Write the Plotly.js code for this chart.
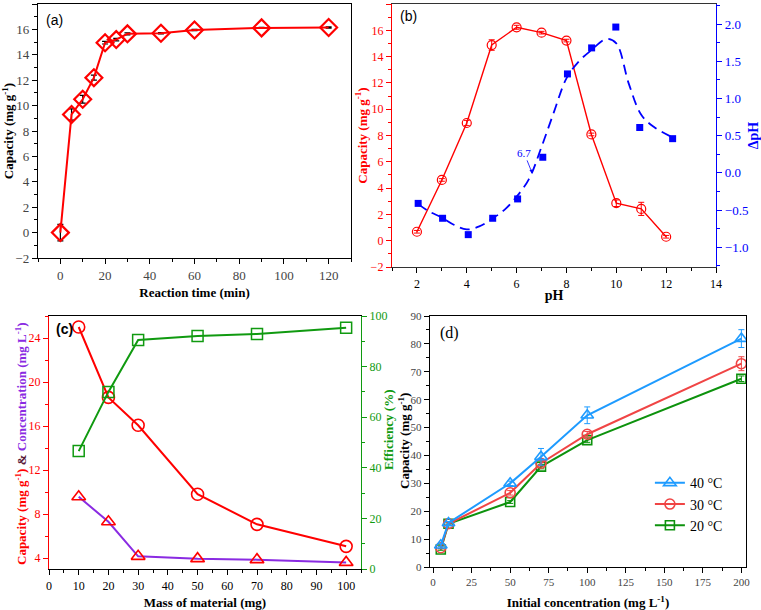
<!DOCTYPE html>
<html>
<head>
<meta charset="utf-8">
<script src="https://cdn.plot.ly/plotly-3.0.1.min.js"></script>
<style>html,body{margin:0;padding:0;background:#fff;}#chart{width:761px;height:610px;}</style>
</head>
<body>
<div id="chart"></div>
<script>
// ---------- Panel (a): kinetics ----------
var timeMin = [0, 5, 10, 15, 20, 25, 30, 45, 60, 90, 120];
var capTime = [0, 9.3, 10.5, 12.2, 14.95, 15.2, 15.65, 15.7, 15.95, 16.12, 16.15];
var capTimeErr = [0.65, 0.45, 0.3, 0.2, 0.1, 0.1, 0.08, 0.05, 0.05, 0.05, 0.05];

// ---------- Panel (b): pH ----------
var pHVals = [2, 3, 4, 5, 6, 7, 8, 9, 10, 11, 12];
var capPH = [0.68, 4.62, 8.95, 14.88, 16.23, 15.82, 15.22, 8.08, 2.85, 2.42, 0.3];
var capPHErr = [0.1, 0.1, 0.2, 0.4, 0.15, 0.1, 0.1, 0.1, 0.25, 0.5, 0.1];
var pHInit = [2.05, 3.03, 4.06, 5.04, 6.04, 7.05, 8.04, 9.01, 9.98, 10.94, 12.26];
var deltaPH = [-0.41, -0.61, -0.83, -0.61, -0.35, 0.21, 1.33, 1.68, 1.96, 0.61, 0.46];
var fitPH = [2.05, 2.5, 3, 3.5, 4, 4.5, 5, 5.5, 6, 6.5, 7, 7.5, 8, 8.5, 9, 9.6, 10, 10.5, 11, 11.5, 12.3];
var fitDelta = [-0.42, -0.52, -0.6, -0.7, -0.76, -0.72, -0.62, -0.5, -0.32, -0.08, 0.35, 0.82, 1.27, 1.5, 1.65, 1.8, 1.74, 1.2, 0.78, 0.62, 0.47];

// ---------- Panel (c): dose ----------
var massMg = [10, 20, 30, 50, 70, 100];
var capMass = [25.0, 18.6, 16.07, 9.8, 7.06, 5.06];
var concMass = [9.57, 7.29, 4.15, 3.94, 3.85, 3.6];
var effMass = [46.6, 70.0, 90.5, 92.1, 92.9, 95.4];

// ---------- Panel (d): isotherms ----------
var initConc = [5, 10, 50, 70, 100, 200];
var cap40 = [7.8, 15.8, 30.0, 39.5, 54.4, 81.9];
var cap30 = [6.9, 15.5, 26.6, 37.2, 47.6, 72.9];
var cap20 = [6.3, 15.5, 23.3, 36.0, 45.5, 67.5];
var err40 = [0.5, 0.5, 0.8, 3.0, 3.0, 3.2];
var err30 = [0.4, 0.4, 0.8, 1.0, 1.0, 2.5];
var err20 = [0.3, 0.3, 0.5, 0.8, 0.8, 1.0];
var tempLabels = ['40 \u00B0C', '30 \u00B0C', '20 \u00B0C'];

var W = 761, H = 610;
function dx(a, b) { return [a / W, b / W]; }
function dy(top, bot) { return [1 - bot / H, 1 - top / H]; }
function px(x) { return x / W; }
function py(y) { return 1 - y / H; }

var SERIF = 'Liberation Serif';
var SANS = 'Liberation Sans';

function ax(opts) {
  var base = {
    showgrid: false, zeroline: false, showline: true, linewidth: 1.2, linecolor: '#000',
    ticks: 'outside', ticklen: 5, tickwidth: 1, tickcolor: '#000',
    tickfont: { family: SERIF, size: 12, color: '#000' },
    minor: { ticks: 'outside', ticklen: 3, tickcolor: '#000', showgrid: false },
    fixedrange: true
  };
  for (var k in opts) base[k] = opts[k];
  return base;
}

var red = '#ff0000', blue = '#0000ff', purple = '#8a2be2', green = '#109a10';
var c40 = '#1e9bff', c30 = '#f04545', c20 = '#0d920d';

var traces = [
  // (a)
  { x: timeMin, y: capTime, xaxis: 'x', yaxis: 'y', mode: 'lines+markers', showlegend: false,
    line: { color: red, width: 2 },
    marker: { symbol: 'diamond-open', size: 13, color: red, line: { width: 2.2, color: red } },
    error_y: { type: 'data', array: capTimeErr, visible: true, color: '#000', thickness: 1.2, width: 3 } },
  // (b) capacity
  { x: pHVals, y: capPH, xaxis: 'x2', yaxis: 'y2', mode: 'lines+markers', showlegend: false,
    line: { color: red, width: 1.4 },
    marker: { symbol: 'circle-open', size: 9, color: red, line: { width: 1.2, color: red } },
    error_y: { type: 'data', array: capPHErr, visible: true, color: red, thickness: 1, width: 3 } },
  // (b) fit
  { x: fitPH, y: fitDelta, xaxis: 'x2', yaxis: 'y3', mode: 'lines', showlegend: false,
    line: { color: blue, width: 1.8, dash: '10px,6px', shape: 'spline', smoothing: 1 } },
  // (b) delta pH
  { x: pHInit, y: deltaPH, xaxis: 'x2', yaxis: 'y3', mode: 'markers', showlegend: false,
    marker: { symbol: 'square', size: 7, color: blue } },
  // (c) efficiency
  { x: massMg, y: effMass, xaxis: 'x3', yaxis: 'y5', mode: 'lines+markers', showlegend: false,
    line: { color: green, width: 2 },
    marker: { symbol: 'square-open', size: 11, color: green, line: { width: 1.5, color: green } } },
  // (c) capacity
  { x: massMg, y: capMass, xaxis: 'x3', yaxis: 'y4', mode: 'lines+markers', showlegend: false,
    line: { color: red, width: 2 },
    marker: { symbol: 'circle-open', size: 12, color: red, line: { width: 1.6, color: red } } },
  // (c) concentration
  { x: massMg, y: concMass, xaxis: 'x3', yaxis: 'y4', mode: 'lines+markers', showlegend: false,
    line: { color: purple, width: 2 },
    marker: { symbol: 'triangle-up-open', size: 12, color: red, line: { width: 1.6, color: red } } },
  // (d)
  { x: initConc, y: cap20, xaxis: 'x4', yaxis: 'y6', mode: 'lines+markers', name: tempLabels[2],
    line: { color: c20, width: 2 },
    marker: { symbol: 'square-open', size: 9, color: c20, line: { width: 1.6, color: c20 } },
    error_y: { type: 'data', array: err20, visible: true, color: c20, thickness: 1, width: 3 } },
  { x: initConc, y: cap30, xaxis: 'x4', yaxis: 'y6', mode: 'lines+markers', name: tempLabels[1],
    line: { color: c30, width: 2 },
    marker: { symbol: 'circle-open', size: 10, color: c30, line: { width: 1.6, color: c30 } },
    error_y: { type: 'data', array: err30, visible: true, color: c30, thickness: 1, width: 3 } },
  { x: initConc, y: cap40, xaxis: 'x4', yaxis: 'y6', mode: 'lines+markers', name: tempLabels[0],
    line: { color: c40, width: 2 },
    marker: { symbol: 'triangle-up-open', size: 11, color: c40, line: { width: 1.6, color: c40 } },
    error_y: { type: 'data', array: err40, visible: true, color: c40, thickness: 1, width: 3 } }
];

var titleFont = function (size, color) { return { family: SERIF, size: size, color: color || '#000', weight: 'bold' }; };

var layout = {
  width: W, height: H,
  margin: { l: 0, r: 0, t: 0, b: 0 },
  paper_bgcolor: '#fff', plot_bgcolor: 'rgba(0,0,0,0)',
  font: { family: SERIF },
  showlegend: true,
  legend: { x: 0.854, y: 0.234, xanchor: 'left', yanchor: 'top', traceorder: 'reversed',
    bgcolor: 'rgba(0,0,0,0)', font: { family: SERIF, size: 14, color: '#000' },
    itemwidth: 30, tracegroupgap: 0 },
  // (a)
  xaxis: ax({ domain: dx(38, 351), range: [-10, 130], dtick: 20, anchor: 'y', mirror: true,
    tickfont: { family: SERIF, size: 13 }, minor: { ticks: 'outside', dtick: 10, ticklen: 3, tickcolor: '#000' },
    title: { text: 'Reaction time (min)', font: titleFont(13), standoff: 6 } }),
  yaxis: ax({ domain: dy(4, 258), range: [-2, 18], dtick: 2, anchor: 'x', mirror: true,
    tickfont: { family: SERIF, size: 13 }, minor: { ticks: 'outside', dtick: 1, ticklen: 3, tickcolor: '#000' },
    title: { text: 'Capacity (mg g<sup>-1</sup>)', font: titleFont(13), standoff: 6 } }),
  // (b)
  xaxis2: ax({ domain: dx(392, 716), range: [1, 14], dtick: 2, anchor: 'y2', mirror: true, linecolor: '#333',
    minor: { ticks: 'outside', dtick: 1, ticklen: 3, tickcolor: '#000' },
    title: { text: 'pH', font: titleFont(14), standoff: 0 } }),
  yaxis2: ax({ domain: dy(4, 267), range: [-2, 18], dtick: 2, anchor: 'x2', linecolor: red, tickcolor: red,
    tickfont: { family: SERIF, size: 12, color: red },
    minor: { ticks: 'outside', dtick: 1, ticklen: 3, tickcolor: red },
    title: { text: 'Capacity (mg g<sup>-1</sup>)', font: titleFont(13, red), standoff: 0 } }),
  yaxis3: ax({ domain: dy(4, 267), range: [-1.265, 2.27], tick0: -1, dtick: 0.5, tickformat: '.1f',
    anchor: 'x2', overlaying: 'y2', side: 'right', linecolor: blue, tickcolor: blue,
    tickfont: { family: SERIF, size: 13, color: blue },
    minor: { ticks: 'outside', dtick: 0.25, ticklen: 3, tickcolor: blue },
    title: { text: '\u0394pH', font: titleFont(14, blue), standoff: 8 } }),
  // (c)
  xaxis3: ax({ domain: dx(49, 361), range: [0, 105], dtick: 10, anchor: 'y4', mirror: true,
    minor: { ticks: 'outside', dtick: 5, ticklen: 3, tickcolor: '#000' },
    title: { text: 'Mass of material (mg)', font: titleFont(13), standoff: 9 } }),
  yaxis4: ax({ domain: dy(316, 569), range: [3, 26], tick0: 4, dtick: 4, anchor: 'x3', linecolor: red, tickcolor: red,
    tickfont: { family: SERIF, size: 12, color: red },
    minor: { ticks: 'outside', dtick: 2, ticklen: 3, tickcolor: red } }),
  yaxis5: ax({ domain: dy(316, 569), range: [0, 100], dtick: 20, anchor: 'x3', overlaying: 'y4', side: 'right',
    linecolor: green, tickcolor: green, tickfont: { family: SERIF, size: 12, color: green },
    minor: { ticks: 'outside', dtick: 10, ticklen: 3, tickcolor: green } }),
  // (d)
  xaxis4: ax({ domain: dx(430, 746), range: [-2, 203], dtick: 25, anchor: 'y6', mirror: true,
    tickfont: { family: SERIF, size: 11 },
    minor: { ticks: 'outside', dtick: 12.5, ticklen: 3, tickcolor: '#000' },
    title: { text: 'Initial concentration (mg L<sup>-1</sup>)', font: titleFont(13), standoff: 12 } }),
  yaxis6: ax({ domain: dy(316, 567), range: [0, 90], dtick: 10, anchor: 'x4', mirror: true,
    tickfont: { family: SERIF, size: 11 },
    minor: { ticks: 'outside', dtick: 5, ticklen: 3, tickcolor: '#000' } }),
  annotations: [
    { text: '(a)', xref: 'paper', yref: 'paper', x: px(44), y: py(10), xanchor: 'left', yanchor: 'top', showarrow: false,
      font: { family: SANS, size: 14, color: '#000' } },
    { text: '(b)', xref: 'paper', yref: 'paper', x: px(398), y: py(6), xanchor: 'left', yanchor: 'top', showarrow: false,
      font: { family: SANS, size: 14, color: '#000' } },
    { text: '(c)', xref: 'paper', yref: 'paper', x: px(54), y: py(319), xanchor: 'left', yanchor: 'top', showarrow: false,
      font: { family: SANS, size: 14, weight: 'bold', color: '#000' } },
    { text: '(d)', xref: 'paper', yref: 'paper', x: px(438), y: py(322), xanchor: 'left', yanchor: 'top', showarrow: false,
      font: { family: SERIF, size: 16, color: '#000' } },
    { text: '6.7', xref: 'x2', yref: 'y3', x: 6.62, y: 0.0, ax: -8, ay: -20, showarrow: true,
      arrowhead: 2, arrowsize: 0.8, arrowwidth: 0.8, arrowcolor: blue,
      font: { family: SERIF, size: 11, color: blue } },
    // (c) left y title
    { text: '<span style="color:#ff0000">Capacity (mg g<sup>-1</sup>)</span> <span style="color:#5a1a3a">&amp;</span> <span style="color:#8a2be2">Concentration (mg L<sup>-1</sup>)</span>',
      xref: 'paper', yref: 'paper', x: px(21), y: py(444), xanchor: 'center', yanchor: 'middle', textangle: -90,
      showarrow: false, font: titleFont(13, red) },
    // (c) right y title
    { text: 'Efficiency (%)', xref: 'paper', yref: 'paper', x: px(388), y: py(430), xanchor: 'center', yanchor: 'middle',
      textangle: -90, showarrow: false, font: titleFont(13, green) },
    // (d) y title
    { text: 'Capacity (mg g<sup>-1</sup>)', xref: 'paper', yref: 'paper', x: px(404), y: py(441), xanchor: 'center', yanchor: 'middle',
      textangle: -90, showarrow: false, font: titleFont(13) }
  ]
};

Plotly.newPlot('chart', traces, layout, { displayModeBar: false, staticPlot: true });
</script>
</body>
</html>
